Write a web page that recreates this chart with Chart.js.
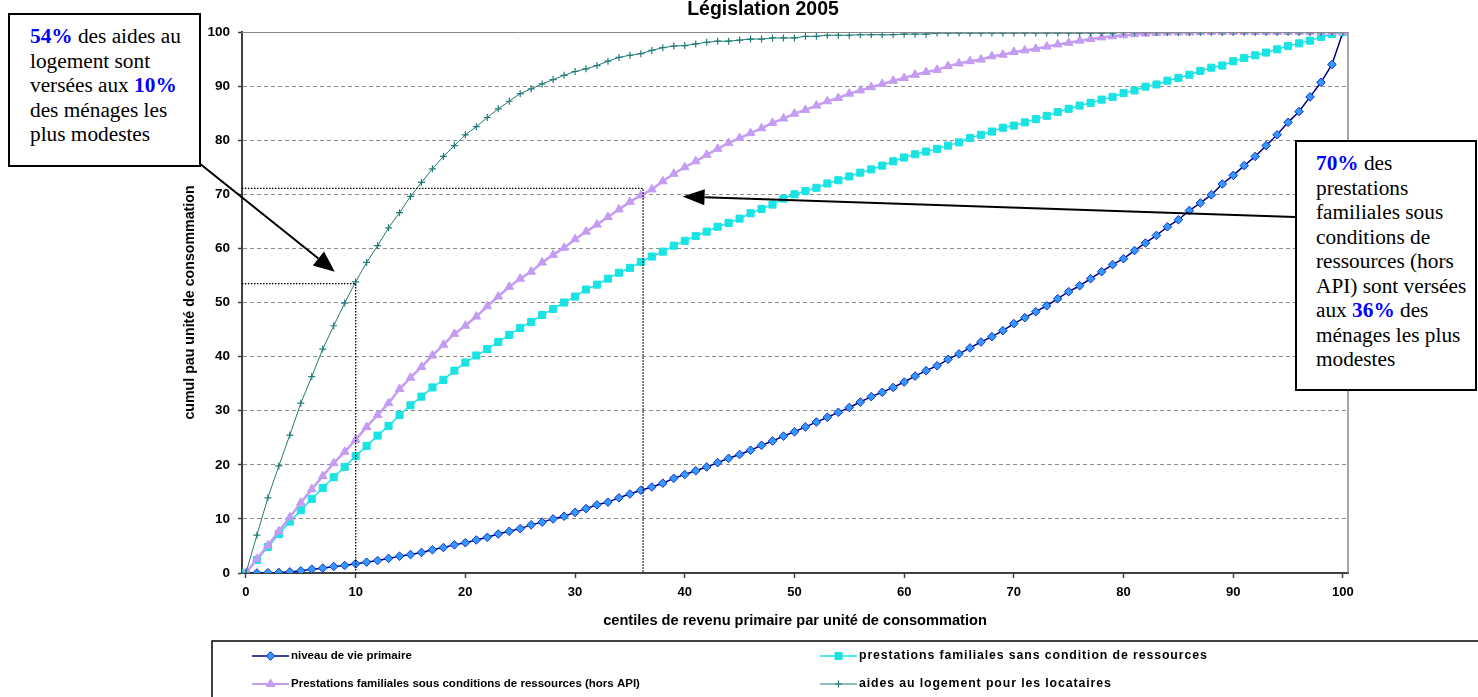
<!DOCTYPE html>
<html><head><meta charset="utf-8">
<script src="https://cdn.jsdelivr.net/npm/chart.js@4/dist/chart.umd.min.js"></script>
<style>
html,body{margin:0;padding:0;background:#fff;width:1478px;height:697px;overflow:hidden;position:relative;}
#c{position:absolute;left:0;top:0;}
.note{position:absolute;background:#fff;border:2px solid #000;font-family:"Liberation Serif","Times New Roman",serif;font-size:21.3px;line-height:24.5px;color:#000;box-sizing:border-box;white-space:nowrap;}
.note b{color:#0000ff;}
#n1{left:8px;top:13px;width:193px;height:154px;padding:9px 0 0 20px;}
#n2{left:1295px;top:140px;width:182px;height:251px;padding:9px 0 0 19px;}
</style></head><body>
<canvas id="c" width="1478" height="697"></canvas>
<div class="note" id="n1"><b>54%</b> des aides au<br>logement sont<br>versées aux <b>10%</b><br>des ménages les<br>plus modestes</div>
<div class="note" id="n2"><b>70%</b> des<br>prestations<br>familiales sous<br>conditions de<br>ressources (hors<br>API) sont versées<br>aux <b>36%</b> des<br>ménages les plus<br>modestes</div>
<script>
const chartTitle = 'Législation 2005';
const xTitle = 'centiles de revenu primaire par unité de consommation';
const yTitle = 'cumul pau unité de consommation';
const seriesNames = ['niveau de vie primaire','prestations familiales sans condition de ressources','Prestations familiales sous conditions de ressources (hors API)','aides au logement pour les locataires'];
const xTicks = [0,10,20,30,40,50,60,70,80,90,100];
const yTicks = [0,10,20,30,40,50,60,70,80,90,100];
const centiles = [0,1,2,3,4,5,6,7,8,9,10,11,12,13,14,15,16,17,18,19,20,21,22,23,24,25,26,27,28,29,30,31,32,33,34,35,36,37,38,39,40,41,42,43,44,45,46,47,48,49,50,51,52,53,54,55,56,57,58,59,60,61,62,63,64,65,66,67,68,69,70,71,72,73,74,75,76,77,78,79,80,81,82,83,84,85,86,87,88,89,90,91,92,93,94,95,96,97,98,99,100];
const niveauVie = [0,0,0.05,0.1,0.2,0.4,0.7,0.9,1.2,1.4,1.7,2.0,2.3,2.7,3.1,3.4,3.8,4.3,4.7,5.2,5.6,6.1,6.6,7.2,7.7,8.2,8.9,9.4,10.0,10.5,11.2,11.9,12.6,13.1,13.9,14.6,15.3,15.9,16.6,17.5,18.2,18.9,19.6,20.4,21.2,21.9,22.7,23.6,24.4,25.3,26.1,27.0,27.9,28.8,29.7,30.6,31.6,32.6,33.4,34.3,35.3,36.4,37.4,38.3,39.5,40.5,41.6,42.7,43.7,44.8,46.1,47.2,48.3,49.4,50.7,52.0,53.1,54.4,55.7,57.0,58.1,59.6,61.0,62.4,64.0,65.3,67.0,68.4,69.9,71.9,73.5,75.3,77.0,79.0,81.0,83.3,85.3,88.0,90.7,94.0,100];
const sansCondition = [0,2.4,4.8,7.2,9.5,11.6,13.7,15.7,17.7,19.6,21.6,23.5,25.4,27.2,29.2,31.0,32.6,34.3,35.7,37.4,38.9,40.2,41.4,42.7,44.0,45.3,46.4,47.7,48.8,50.0,51.1,52.4,53.3,54.4,55.5,56.4,57.5,58.5,59.4,60.5,61.4,62.3,63.1,64.0,64.7,65.5,66.5,67.3,68.1,69.2,70.0,70.6,71.2,72.0,72.6,73.3,74.0,74.6,75.3,76.1,76.8,77.4,77.9,78.4,79.0,79.6,80.4,81.0,81.6,82.3,82.7,83.3,83.9,84.5,85.2,85.8,86.4,86.9,87.5,88.0,88.7,89.2,89.9,90.3,91.0,91.5,92.1,92.8,93.4,93.8,94.6,95.2,95.7,96.2,96.8,97.4,97.9,98.4,99.1,99.6,100];
const sousConditions = [0,2.6,5.1,7.7,10.3,13.0,15.5,17.9,20.3,22.4,24.6,27.0,29.2,31.4,34.0,36.1,38.1,40.2,42.2,44.2,45.7,47.4,49.3,51.1,52.9,54.4,55.7,57.4,58.8,60.1,61.7,63.1,64.4,65.8,67.2,68.6,69.8,70.9,72.4,73.8,75.0,76.1,77.3,78.4,79.5,80.4,81.3,82.2,83.2,84.0,84.9,85.6,86.4,87.2,87.8,88.6,89.2,89.8,90.4,91.0,91.5,92.1,92.6,93.0,93.7,94.2,94.6,94.9,95.5,95.8,96.3,96.6,96.9,97.3,97.7,98.0,98.4,98.7,99.0,99.2,99.4,99.6,99.7,99.8,99.9,99.9,99.9,100,100,100,100,100,100,100,100,100,100,100,100,100,100];
const aidesLogement = [0,7.0,13.9,19.8,25.5,31.4,36.3,41.4,45.7,49.9,53.8,57.4,60.5,63.8,66.6,69.6,72.2,74.7,77.0,79.0,81.0,82.5,84.2,85.8,87.2,88.6,89.5,90.4,91.2,92.0,92.7,93.2,93.8,94.6,95.3,95.7,96.0,96.6,97.1,97.4,97.5,97.8,98.1,98.3,98.3,98.5,98.7,98.7,98.9,98.9,98.9,99.2,99.2,99.4,99.4,99.4,99.5,99.5,99.5,99.5,99.6,99.6,99.6,99.8,99.8,99.8,99.8,99.8,99.8,99.8,99.8,99.8,99.8,99.8,99.8,99.8,99.8,99.8,99.8,99.8,99.9,99.9,99.9,99.9,99.9,99.9,99.9,99.9,99.9,99.9,99.9,99.9,99.9,99.9,99.9,99.9,99.9,99.9,99.9,99.9,100];
// reference guides (data values)
const guide10 = {x:10, y:53.5};
const guide36 = {x:36.2, y:71.1};
const arrowHead1 = {x:8.1, y:55.7};
const arrowHead2 = {x:39.8, y:69.6};

const pts = arr => centiles.map((c,i)=>({x:c, y:arr[i]}));
const FONT = '"Liberation Sans", Arial, sans-serif';

const styles = [
  {line:'#000080', lw:1.5, ps:'rectRot', r:4.3, fill:'#3399ff', stroke:'#1133cc', bw:1},
  {line:'#19e3e3', lw:1.5, ps:'rect', r:5, fill:'#19e3e3', stroke:'#19e3e3', bw:1},
  {line:'#c49cf2', lw:2.5, ps:'triangle', r:5, fill:'#c49cf2', stroke:'#c49cf2', bw:1},
  {line:'#217c78', lw:1, ps:'cross', r:3.5, fill:'#217c78', stroke:'#217c78', bw:1.2}
];
const seriesData = [niveauVie, sansCondition, sousConditions, aidesLogement];

function drawMarker(ctx, st, x, y){
  ctx.save();
  ctx.fillStyle = st.fill; ctx.strokeStyle = st.stroke; ctx.lineWidth = st.bw;
  ctx.beginPath();
  const r = st.r;
  if (st.ps==='rectRot'){ ctx.moveTo(x,y-r); ctx.lineTo(x+r,y); ctx.lineTo(x,y+r); ctx.lineTo(x-r,y); ctx.closePath(); ctx.fill(); ctx.stroke(); }
  else if (st.ps==='rect'){ const s=r*Math.SQRT1_2; ctx.rect(x-s,y-s,2*s,2*s); ctx.fill(); ctx.stroke(); }
  else if (st.ps==='triangle'){ ctx.moveTo(x,y-r); ctx.lineTo(x+r*0.866,y+r*0.5); ctx.lineTo(x-r*0.866,y+r*0.5); ctx.closePath(); ctx.fill(); ctx.stroke(); }
  else { ctx.moveTo(x-r,y); ctx.lineTo(x+r,y); ctx.moveTo(x,y-r); ctx.lineTo(x,y+r); ctx.stroke(); }
  ctx.restore();
}

function arrow(ctx, x1,y1,x2,y2, len, half){
  const a = Math.atan2(y2-y1, x2-x1);
  const bx = x2 - len*Math.cos(a), by = y2 - len*Math.sin(a);
  ctx.save();
  ctx.strokeStyle='#000'; ctx.fillStyle='#000'; ctx.lineWidth=2;
  ctx.beginPath(); ctx.moveTo(x1,y1); ctx.lineTo(bx,by); ctx.stroke();
  ctx.beginPath(); ctx.moveTo(x2,y2);
  ctx.lineTo(bx + half*Math.sin(a), by - half*Math.cos(a));
  ctx.lineTo(bx - half*Math.sin(a), by + half*Math.cos(a));
  ctx.closePath(); ctx.fill();
  ctx.restore();
}

const overlay = {
  id:'overlay',
  afterDatasetsDraw(chart){
    const {ctx, chartArea:a, scales:{x, y}} = chart;
    ctx.save();
    ctx.strokeStyle='#888'; ctx.lineWidth=1;
    ctx.beginPath(); ctx.moveTo(a.left, a.top+0.5); ctx.lineTo(a.right, a.top+0.5); ctx.stroke();
    ctx.lineWidth=1.5;
    ctx.beginPath(); ctx.moveTo(a.right, a.top); ctx.lineTo(a.right, a.bottom); ctx.stroke();
    ctx.strokeStyle='#000'; ctx.lineWidth=1.3; ctx.setLineDash([1.5,1.5]);
    for (const g of [guide10, guide36]){
      const gx = x.getPixelForValue(g.x), gy = y.getPixelForValue(g.y);
      ctx.beginPath(); ctx.moveTo(a.left, gy); ctx.lineTo(gx, gy); ctx.lineTo(gx, a.bottom); ctx.stroke();
    }
    ctx.setLineDash([]);
    ctx.restore();
  },
  afterDraw(chart){
    const {ctx, scales:{x, y}} = chart;
    const cr = chart.canvas.getBoundingClientRect();
    const r1 = document.getElementById('n1').getBoundingClientRect();
    const r2 = document.getElementById('n2').getBoundingClientRect();
    arrow(ctx, r1.right-2-cr.left, r1.bottom-4-cr.top, x.getPixelForValue(arrowHead1.x), y.getPixelForValue(arrowHead1.y), 21, 9);
    arrow(ctx, r2.left-cr.left, r2.top+77-cr.top, x.getPixelForValue(arrowHead2.x), y.getPixelForValue(arrowHead2.y), 22, 8);
    // legend
    ctx.save();
    ctx.strokeStyle='#000'; ctx.lineWidth=1.5;
    ctx.strokeRect(212, 641, 1300, 80);
    const cols = [{ls:252, le:289, sp:0, fs:11.5}, {ls:820, le:857, sp:0.9, fs:12.3}];
    const rows = [656, 684];
    const order = [[0,0],[1,0],[0,1],[1,1]];
    seriesNames.forEach((name, i)=>{
      const c = cols[order[i][0]], ry = rows[order[i][1]], st = styles[i];
      ctx.strokeStyle = st.line; ctx.lineWidth = Math.min(st.lw, 2);
      ctx.beginPath(); ctx.moveTo(c.ls, ry); ctx.lineTo(c.le, ry); ctx.stroke();
      drawMarker(ctx, st, (c.ls+c.le)/2, ry);
      ctx.save();
      ctx.font = 'bold ' + c.fs + 'px ' + FONT; ctx.fillStyle='#000'; ctx.textBaseline='middle';
      if ('letterSpacing' in ctx) ctx.letterSpacing = c.sp + 'px';
      ctx.fillText(name, c.le+2, ry);
      ctx.restore();
    });
    ctx.restore();
  }
};

new Chart(document.getElementById('c'), {
  type:'line',
  data:{
    datasets: seriesNames.map((name,i)=>({
      label:name, data:pts(seriesData[i]),
      borderColor:styles[i].line, borderWidth:styles[i].lw, tension:0,
      pointStyle:styles[i].ps, pointRadius:styles[i].r,
      pointBackgroundColor:styles[i].fill, pointBorderColor:styles[i].stroke, pointBorderWidth:styles[i].bw,
      order: 4-i
    }))
  },
  options:{
    responsive:false, animation:false, devicePixelRatio:1,
    layout:{padding:{left:178, right:130, top:0, bottom:64}},
    plugins:{
      legend:{display:false}, tooltip:{enabled:false},
      title:{display:true, text:chartTitle, color:'#000', font:{family:FONT, weight:'bold', size:19.5, lineHeight:1}, padding:{top:0, bottom:12.5}}
    },
    scales:{
      x:{type:'linear', min:-0.36, max:100.46,
        afterBuildTicks:s=>{ s.ticks = xTicks.map(v=>({value:v})); },
        afterFit:s=>{ s.height = 60; },
        ticks:{color:'#000', font:{family:FONT, weight:'bold', size:13}, padding:7, maxRotation:0, autoSkip:false},
        grid:{drawOnChartArea:false, drawTicks:true, tickLength:5, tickColor:'#404040', tickWidth:1.5},
        border:{display:true, color:'#404040', width:2},
        title:{display:true, text:xTitle, color:'#000', font:{family:FONT, weight:'bold', size:14.6}, padding:{top:0, bottom:3}}
      },
      y:{type:'linear', min:0, max:100,
        afterBuildTicks:s=>{ s.ticks = yTicks.map(v=>({value:v})); },
        afterFit:s=>{ s.width = 64; },
        ticks:{color:'#000', font:{family:FONT, weight:'bold', size:13.5}, padding:8, autoSkip:false},
        grid:{drawOnChartArea:true, drawTicks:true, tickLength:4, tickColor:'#404040', tickWidth:1.5, lineWidth:1,
          color: c => (c.tick && (c.tick.value===0 || c.tick.value===100)) ? 'rgba(0,0,0,0)' : '#8c8c8c'},
        border:{display:true, color:'#404040', width:2, dash:[4,3]},
        title:{display:true, text:yTitle, color:'#000', font:{family:FONT, weight:'bold', size:14.2}, padding:{top:4, bottom:0}}
      }
    }
  },
  plugins:[overlay]
});
</script>
</body></html>
